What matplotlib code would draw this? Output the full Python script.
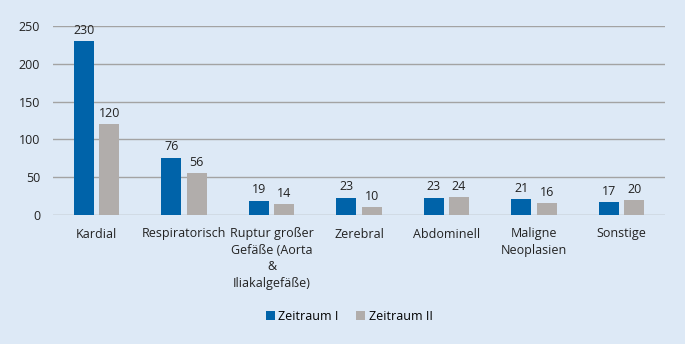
import matplotlib.pyplot as plt
import numpy as np

categories = ['Kardial', 'Respiratorisch', 'Ruptur großer\nGefäße (Aorta\n&\nIliakalgefäße)',
              'Zerebral', 'Abdominell', 'Maligne\nNeoplasien', 'Sonstige']
zeitraum_1 = [230, 76, 19, 23, 23, 21, 17]
zeitraum_2 = [120, 56, 14, 10, 24, 16, 20]
series_names = ['Zeitraum I', 'Zeitraum II']

bg = '#dde9f6'
blue = '#0063a9'
gray = '#b1adab'

plt.rcParams['font.family'] = ['Open Sans', 'DejaVu Sans']

fig = plt.figure(figsize=(6.85, 3.44), dpi=100, facecolor=bg)
ax = fig.add_axes([0.077, 0.375, 0.894, 0.549], facecolor=bg)

x = np.arange(len(categories))
w = 0.23
off = 0.145
b1 = ax.bar(x - off, zeitraum_1, w, color=blue, label=series_names[0], zorder=3)
b2 = ax.bar(x + off, zeitraum_2, w, color=gray, label=series_names[1], zorder=3)
ax.bar_label(b1, padding=3, fontsize=9, color='#222222')
ax.bar_label(b2, padding=3, fontsize=9, color='#222222')

ax.set_xlim(-0.5, len(categories) - 0.5)
ax.set_ylim(0, 250)
ax.set_yticks(range(0, 251, 50))
ax.yaxis.grid(True, color='#a3a3a3', linewidth=1, zorder=0)
ax.tick_params(length=0, labelsize=9, colors='#222222')
ax.tick_params(axis='y', pad=9)
ax.set_xticks(x)
ax.set_xticklabels(categories, fontsize=9, linespacing=1.35)
ax.tick_params(axis='x', pad=9)
for s in ax.spines.values():
    s.set_visible(False)

fig.legend(handles=[b1, b2], loc='center', bbox_to_anchor=(0.51, 0.08), ncol=2,
           frameon=False, fontsize=9, handlelength=0.7, handleheight=0.7,
           handletextpad=0.3, columnspacing=1.4)

fig.savefig('out.png', dpi=100, facecolor=bg)
